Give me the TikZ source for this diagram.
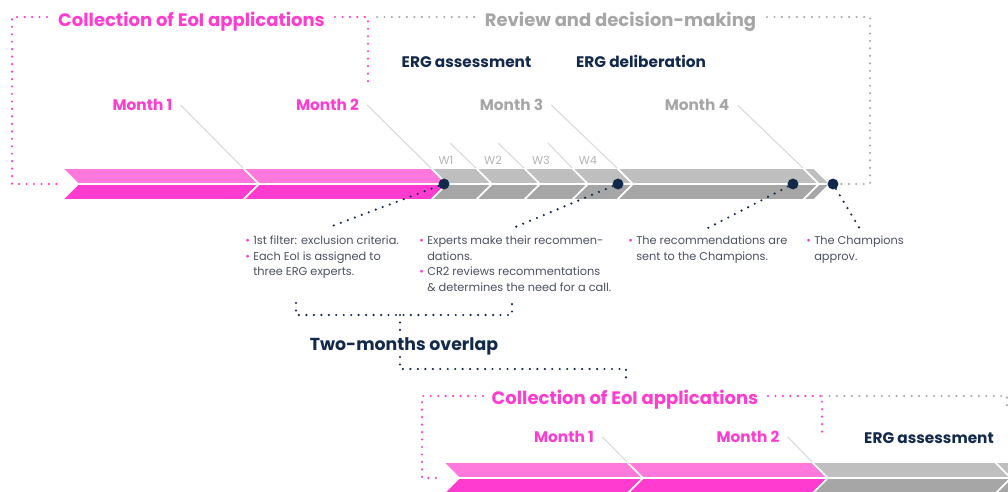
\documentclass[tikz,border=0pt]{standalone}
\usepackage{fontspec}
\setmainfont{Poppins}
\definecolor{mypink}{HTML}{FF3CCF}
\definecolor{mylightpink}{HTML}{FF78DC}
\definecolor{mygray}{HTML}{A6A6A6}
\definecolor{mylightgray}{HTML}{BFBFBF}
\definecolor{mydotgray}{HTML}{ABABAB}
\definecolor{myweekgray}{HTML}{B3B3B3}
\definecolor{mynavy}{HTML}{13294B}
\definecolor{mytext}{HTML}{4B5061}
\definecolor{mytick}{HTML}{D9D9D9}
\tikzset{
  mytitle/.style={anchor=base, inner sep=0pt, font=\fontsize{13.5pt}{13.5pt}\selectfont\bfseries},
  myphase/.style={anchor=base, inner sep=0pt, text=mynavy, font=\fontsize{11.5pt}{11.5pt}\selectfont\bfseries},
  mymonth/.style={anchor=base, inner xsep=6pt, inner ysep=0pt, font=\fontsize{11.5pt}{11.5pt}\selectfont\bfseries},
  myweek/.style={anchor=base, inner sep=0pt, text=myweekgray, font=\fontsize{8.5pt}{8.5pt}\selectfont},
  mynote/.style={anchor=base west, inner sep=0pt, align=left, text=mytext, font=\fontsize{8.5pt}{11.8pt}\selectfont},
  mydot/.style={circle, fill=mynavy, inner sep=0pt, minimum size=8.2pt},
  mybar/.style={draw=white, line width=1.2pt},
  mydots/.style={line width=1.8pt, line cap=round, dash pattern=on 0pt off 5.6pt},
  myline/.style={draw=mytick, line width=0.8pt},
}
\newcommand{\mybullet}{\makebox[6pt][l]{\textcolor{mypink}{\textbullet}}}
\begin{document}
\begin{tikzpicture}[x=0.75pt, y=-0.75pt]%
\clip (0,0) rectangle (1008,492);%
% top time line
\filldraw[mybar, fill=mylightpink] (62,168) -- (243,168) -- (259,184) -- (78,184) -- cycle;%
\filldraw[mybar, fill=mypink] (78,184) -- (259,184) -- (243,200) -- (62,200) -- cycle;%
\filldraw[mybar, fill=mylightpink] (243,168) -- (431,168) -- (447,184) -- (259,184) -- cycle;%
\filldraw[mybar, fill=mypink] (259,184) -- (447,184) -- (431,200) -- (243,200) -- cycle;%
\filldraw[mybar, fill=mylightgray] (431,168) -- (476,168) -- (492,184) -- (447,184) -- cycle;%
\filldraw[mybar, fill=mygray] (447,184) -- (492,184) -- (476,200) -- (431,200) -- cycle;%
\filldraw[mybar, fill=mylightgray] (476,168) -- (524,168) -- (540,184) -- (492,184) -- cycle;%
\filldraw[mybar, fill=mygray] (492,184) -- (540,184) -- (524,200) -- (476,200) -- cycle;%
\filldraw[mybar, fill=mylightgray] (524,168) -- (572,168) -- (588,184) -- (540,184) -- cycle;%
\filldraw[mybar, fill=mygray] (540,184) -- (588,184) -- (572,200) -- (524,200) -- cycle;%
\filldraw[mybar, fill=mylightgray] (572,168) -- (617,168) -- (633,184) -- (588,184) -- cycle;%
\filldraw[mybar, fill=mygray] (588,184) -- (633,184) -- (617,200) -- (572,200) -- cycle;%
\filldraw[mybar, fill=mylightgray] (617,168) -- (803,168) -- (819,184) -- (633,184) -- cycle;%
\filldraw[mybar, fill=mygray] (633,184) -- (819,184) -- (803,200) -- (617,200) -- cycle;%
\filldraw[mybar, fill=mylightgray] (803,168) -- (814,168) -- (830,184) -- (819,184) -- cycle;%
\filldraw[mybar, fill=mygray] (819,184) -- (830,184) -- (814,200) -- (803,200) -- cycle;%
% phase brackets
\node[mytitle, text=mypink] (collect) at (191.5,26.5) {Collection of EoI applications};%
\node[mytitle, text=mygray] (review) at (620.5,26.5) {Review and decision-making};%
\coordinate (pa) at (47,17);%
\coordinate (pb) at (12,17);%
\coordinate (pc) at (12,184);%
\coordinate (pd) at (62,184);%
\coordinate (pe) at (335,17);%
\coordinate (pf) at (368,17);%
\coordinate (pg) at (368,85);%
\draw[mydots, mypink] (pa) -- (pb) -- (pc) -- (pd);%
\draw[mydots, mypink] (pe) -- (pf) -- (pg);%
\coordinate (ga) at (377,17);%
\coordinate (gb) at (478,17);%
\coordinate (gc) at (767,17);%
\coordinate (gd) at (870,17);%
\coordinate (ge) at (870,184);%
\coordinate (gf) at (840,184);%
\draw[mydots, mydotgray] (ga) -- (gb);%
\draw[mydots, mydotgray] (gc) -- (gd) -- (ge) -- (gf);%
\node[myphase] (assess) at (466.5,67.7) {ERG assessment};%
\node[myphase] (deliber) at (641,67.7) {ERG deliberation};%
% months and weeks
\node[mymonth, text=mypink] (month1) at (142.5,110.7) {Month 1};%
\node[mymonth, text=mypink] (month2) at (327.5,110.7) {Month 2};%
\node[mymonth, text=mygray] (month3) at (511.5,110.7) {Month 3};%
\node[mymonth, text=mygray] (month4) at (697,110.7) {Month 4};%
\coordinate (ta) at (243,168);%
\coordinate (tb) at (431,168);%
\coordinate (tc) at (617,168);%
\coordinate (td) at (803,168);%
\draw[myline] (month1.east) -- (ta);%
\draw[myline] (month2.east) -- (tb);%
\draw[myline] (month3.east) -- (tc);%
\draw[myline] (month4.east) -- (td);%
\node[myweek] (week1) at (446,165) {W1};%
\node[myweek] (week2) at (493,165) {W2};%
\node[myweek] (week3) at (541,165) {W3};%
\node[myweek] (week4) at (588,165) {W4};%
\coordinate (wa) at (450,143);%
\coordinate (wb) at (476,168);%
\coordinate (wc) at (498,143);%
\coordinate (wd) at (524,168);%
\coordinate (we) at (548,143);%
\coordinate (wf) at (572,168);%
\draw[myline] (wa) -- (wb);%
\draw[myline] (wc) -- (wd);%
\draw[myline] (we) -- (wf);%
% milestones
\node[mydot] (dot1) at (444,184) {};%
\node[mydot] (dot2) at (618,184) {};%
\node[mydot] (dot3) at (793,184) {};%
\node[mydot] (dot4) at (833,184) {};%
\coordinate (na) at (327,228);%
\coordinate (nb) at (513,228);%
\coordinate (nc) at (706,229);%
\coordinate (nd) at (860,229);%
\draw[mydots, mynavy] (dot1) -- (na);%
\draw[mydots, mynavy] (dot2) -- (nb);%
\draw[mydots, mynavy] (dot3) -- (nc);%
\draw[mydots, mynavy] (dot4) -- (nd);%
\node[mynote] (note1) at (245,275.8) {\mybullet 1st filter: exclusion criteria.\\\mybullet Each EoI is assigned to\\\hspace*{6pt}three ERG experts.};%
\node[mynote] (note2) at (419,291.5) {\mybullet Experts make their recommen-\\\hspace*{6pt}dations.\\\mybullet CR2 reviews recommentations\\\hspace*{6pt}\& determines the need for a call.};%
\node[mynote] (note3) at (628,260) {\mybullet The recommendations are\\\hspace*{6pt}sent to the Champions.};%
\node[mynote] (note4) at (806,260) {\mybullet The Champions\\\hspace*{6pt}approv.};%
% overlap
\node[mytitle, text=mynavy, font=\fontsize{13pt}{13pt}\selectfont\bfseries] (overlap) at (404,350.7) {Two-months overlap};%
\coordinate (oa) at (296,303);%
\coordinate (ob) at (296,315);%
\coordinate (oc) at (512,315);%
\coordinate (od) at (512,303);%
\coordinate (oe) at (400,315);%
\coordinate (of) at (400,332);%
\coordinate (og) at (400,357);%
\coordinate (oh) at (400,369);%
\coordinate (oi) at (626,369);%
\coordinate (oj) at (626,383);%
\draw[mydots, mynavy] (oa) -- (ob) -- (oc) -- (od);%
\draw[mydots, mynavy] (oe) -- (of);%
\draw[mydots, mynavy] (og) -- (oh) -- (oi) -- (oj);%
% bottom time line
\filldraw[mybar, fill=mylightpink] (443,462) -- (627,462) -- (643,478) -- (459,478) -- cycle;%
\filldraw[mybar, fill=mypink] (459,478) -- (643,478) -- (627,494) -- (443,494) -- cycle;%
\filldraw[mybar, fill=mylightpink] (627,462) -- (812,462) -- (828,478) -- (643,478) -- cycle;%
\filldraw[mybar, fill=mypink] (643,478) -- (828,478) -- (812,494) -- (627,494) -- cycle;%
\filldraw[mybar, fill=mylightgray] (812,462) -- (995,462) -- (1011,478) -- (828,478) -- cycle;%
\filldraw[mybar, fill=mygray] (828,478) -- (1011,478) -- (995,494) -- (812,494) -- cycle;%
\filldraw[mybar, fill=mylightgray] (995,462) -- (1180,462) -- (1196,478) -- (1011,478) -- cycle;%
\filldraw[mybar, fill=mygray] (1011,478) -- (1196,478) -- (1180,494) -- (995,494) -- cycle;%
\node[mytitle, text=mypink] (collectb) at (625,404) {Collection of EoI applications};%
\coordinate (qa) at (483,396);%
\coordinate (qb) at (422,396);%
\coordinate (qc) at (422,478);%
\coordinate (qd) at (443,478);%
\coordinate (qe) at (768,396);%
\coordinate (qf) at (822,396);%
\coordinate (qg) at (822,439);%
\coordinate (qh) at (1007,396);%
\coordinate (qi) at (1007,406);%
\draw[mydots, mypink] (qa) -- (qb) -- (qc) -- (qd);%
\draw[mydots, mypink] (qe) -- (qf) -- (qg);%
\draw[mydots, mydotgray] (qf) -- (qh) -- (qi);%
\node[mymonth, text=mypink] (month1b) at (564,442.3) {Month 1};%
\node[mymonth, text=mypink] (month2b) at (748,442.3) {Month 2};%
\node[myphase] (assessb) at (929,443) {ERG assessment};%
\coordinate (tbb) at (627,462);%
\coordinate (tcb) at (812,462);%
\draw[myline] (month1b.east) -- (tbb);%
\draw[myline] (month2b.east) -- (tcb);%
\end{tikzpicture}
\end{document}
